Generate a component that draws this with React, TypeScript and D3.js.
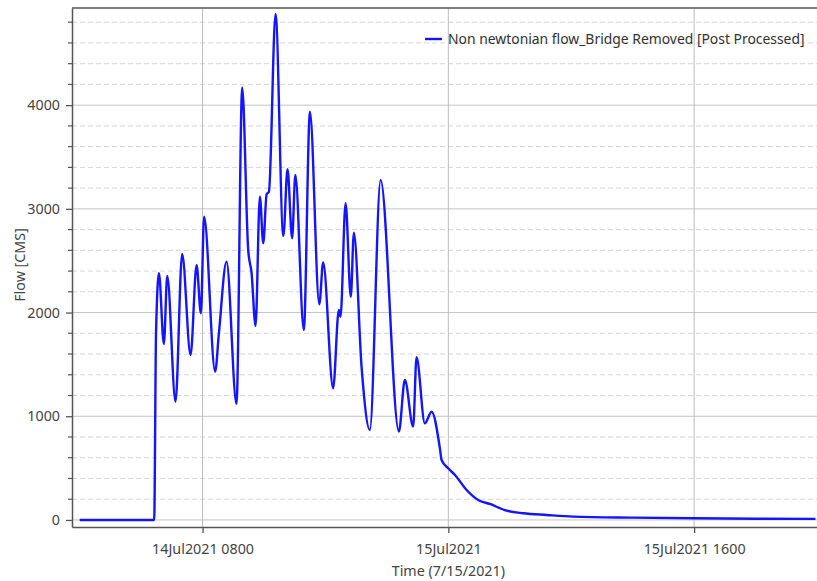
import React, { useRef, useEffect } from 'react';
import * as d3 from 'd3';

// hours after 14Jul2021 0000
const hours = [
  0, 4.85, 4.97, 5.16, 5.48, 5.70, 6.24, 6.67, 7.22, 7.61, 7.89, 8.10, 8.82, 9.06, 9.56,
  10.21, 10.58, 10.97, 11.19, 11.45, 11.73, 11.95, 12.17, 12.32, 12.75, 13.26, 13.53, 13.83,
  14.04, 14.59, 14.99, 15.60, 15.85, 16.50, 16.87, 16.98, 17.31, 17.65, 17.85, 18.35, 18.89,
  19.59, 20.78, 21.17, 21.71, 21.93, 22.47, 22.91, 23.45, 23.56, 23.99, 24.43, 25.19, 25.94,
  26.70, 27.79, 28.87, 30.40, 32.13, 36.0, 40.0, 44.0, 47.9,
];
const flow = [
  0, 0, 1800, 2379, 1697, 2353, 1141, 2565, 1591, 2459, 1993, 2925, 1430, 1794, 2491,
  1119, 4172, 2604, 2382, 1871, 3118, 2668, 3141, 3166, 4880, 2739, 3382, 2716,
  3327, 1832, 3937, 2080, 2483, 1270, 2025, 1960, 3054, 2153, 2771, 1479, 868,
  3279, 852, 1350, 900, 1569, 932, 1044, 691, 578, 498, 434, 289, 193,
  154, 90, 65, 48, 32, 22, 16, 12, 10,
];

const yMajorTicks = [0, 1000, 2000, 3000, 4000];
const yMinorTicks = d3.range(200, 5000, 200).filter(v => v % 1000 !== 0);
const xTickHours = [8, 24, 40];
const xTickLabels = ['14Jul2021 0800', '15Jul2021', '15Jul2021 1600'];
const seriesName = 'Non newtonian flow_Bridge Removed [Post Processed]';
const xTitle = 'Time (7/15/2021)';
const yTitle = 'Flow [CMS]';

const start = new Date(2021, 6, 14, 0, 0);
const toDate = (h: number) => new Date(start.getTime() + h * 3600 * 1000);

const App = () => {
  const ref = useRef<SVGSVGElement>(null);

  useEffect(() => {
    const svg = d3.select(ref.current);
    svg.selectAll('*').remove();

    const width = 817;
    const height = 581;
    const margin = { top: 8, right: 0, bottom: 54, left: 72 };
    const font = "'Noto Sans', 'Open Sans', sans-serif";
    const fontSize = 14.3;
    const textColor = '#444';

    const x = d3.scaleTime()
      .domain([toDate(-0.5), toDate(48)])
      .range([margin.left, width - margin.right]);

    const y = d3.scaleLinear()
      .domain([-68, 4937])
      .range([height - margin.bottom, margin.top]);

    const data = hours.map((h, i) => ({ t: toDate(h), v: flow[i] }));

    // grid
    const grid = svg.append('g');
    grid.selectAll('.minor')
      .data(yMinorTicks)
      .enter()
      .append('line')
      .attr('x1', margin.left)
      .attr('x2', width)
      .attr('y1', d => y(d))
      .attr('y2', d => y(d))
      .attr('stroke', '#d6d6d6')
      .attr('stroke-dasharray', '5,3');

    grid.selectAll('.major')
      .data(yMajorTicks)
      .enter()
      .append('line')
      .attr('x1', margin.left)
      .attr('x2', width)
      .attr('y1', d => y(d))
      .attr('y2', d => y(d))
      .attr('stroke', '#c4c4c4');

    grid.selectAll('.vgrid')
      .data(xTickHours)
      .enter()
      .append('line')
      .attr('x1', d => x(toDate(d)))
      .attr('x2', d => x(toDate(d)))
      .attr('y1', margin.top)
      .attr('y2', height - margin.bottom)
      .attr('stroke', '#bdbdbd');

    // series
    svg.append('defs').append('clipPath').attr('id', 'plot')
      .append('rect')
      .attr('x', margin.left)
      .attr('y', margin.top)
      .attr('width', width - margin.left)
      .attr('height', height - margin.bottom - margin.top);

    const line = d3.line<{ t: Date; v: number }>()
      .x(d => x(d.t))
      .y(d => y(d.v))
      .curve(d3.curveMonotoneX);

    svg.append('path')
      .datum(data)
      .attr('clip-path', 'url(#plot)')
      .attr('d', line)
      .attr('fill', 'none')
      .attr('stroke', '#1414ff')
      .attr('stroke-width', 2.4)
      .attr('stroke-linejoin', 'round');

    // frame
    const axisColor = '#555';
    svg.append('line')
      .attr('x1', margin.left).attr('x2', width)
      .attr('y1', margin.top).attr('y2', margin.top)
      .attr('stroke', axisColor).attr('stroke-width', 1.5);

    const yAxis = svg.append('g')
      .attr('transform', `translate(${margin.left},0)`)
      .call(d3.axisLeft(y)
        .tickValues(yMajorTicks)
        .tickFormat(d3.format('d'))
        .tickSize(6)
        .tickSizeOuter(0)
        .tickPadding(6));
    yAxis.select('.domain').attr('stroke', axisColor).attr('stroke-width', 1.5);
    yAxis.selectAll('.tick line').attr('stroke', axisColor).attr('stroke-width', 1.3);
    yAxis.selectAll('text')
      .attr('font-family', font)
      .attr('font-size', fontSize)
      .attr('fill', textColor);

    svg.append('g')
      .attr('transform', `translate(${margin.left},0)`)
      .selectAll('line')
      .data(yMinorTicks)
      .enter()
      .append('line')
      .attr('x1', -4)
      .attr('x2', 0)
      .attr('y1', d => y(d))
      .attr('y2', d => y(d))
      .attr('stroke', axisColor)
      .attr('stroke-width', 1.2);

    const xAxis = svg.append('g')
      .attr('transform', `translate(0,${height - margin.bottom})`)
      .call(d3.axisBottom(x)
        .tickValues(xTickHours.map(toDate))
        .tickFormat((_d, i) => xTickLabels[i])
        .tickSize(6)
        .tickSizeOuter(0)
        .tickPadding(11));
    xAxis.select('.domain').attr('stroke', axisColor).attr('stroke-width', 1.5);
    xAxis.selectAll('.tick line').attr('stroke', axisColor).attr('stroke-width', 1.3);
    xAxis.selectAll('text')
      .attr('font-family', font)
      .attr('font-size', fontSize)
      .attr('fill', textColor);

    svg.append('text')
      .attr('x', x(toDate(24)))
      .attr('y', 576)
      .attr('text-anchor', 'middle')
      .attr('font-family', font)
      .attr('font-size', fontSize)
      .attr('fill', textColor)
      .text(xTitle);

    svg.append('text')
      .attr('transform', 'translate(25,265) rotate(-90)')
      .attr('text-anchor', 'middle')
      .attr('font-family', font)
      .attr('font-size', fontSize)
      .attr('fill', textColor)
      .text(yTitle);

    // legend
    const legend = svg.append('g').attr('transform', 'translate(425,39)');
    legend.append('line')
      .attr('x1', 0).attr('x2', 17)
      .attr('y1', 0).attr('y2', 0)
      .attr('stroke', '#1414ff')
      .attr('stroke-width', 2.4);
    legend.append('text')
      .attr('x', 23)
      .attr('y', 5)
      .attr('font-family', font)
      .attr('font-size', 13.9)
      .attr('fill', '#333')
      .text(seriesName);
  }, []);

  return (
    <svg
      ref={ref}
      width={817}
      height={581}
      style={{ position: 'absolute', left: 0, top: 0, background: '#fff' }}
    />
  );
};

export default App;
